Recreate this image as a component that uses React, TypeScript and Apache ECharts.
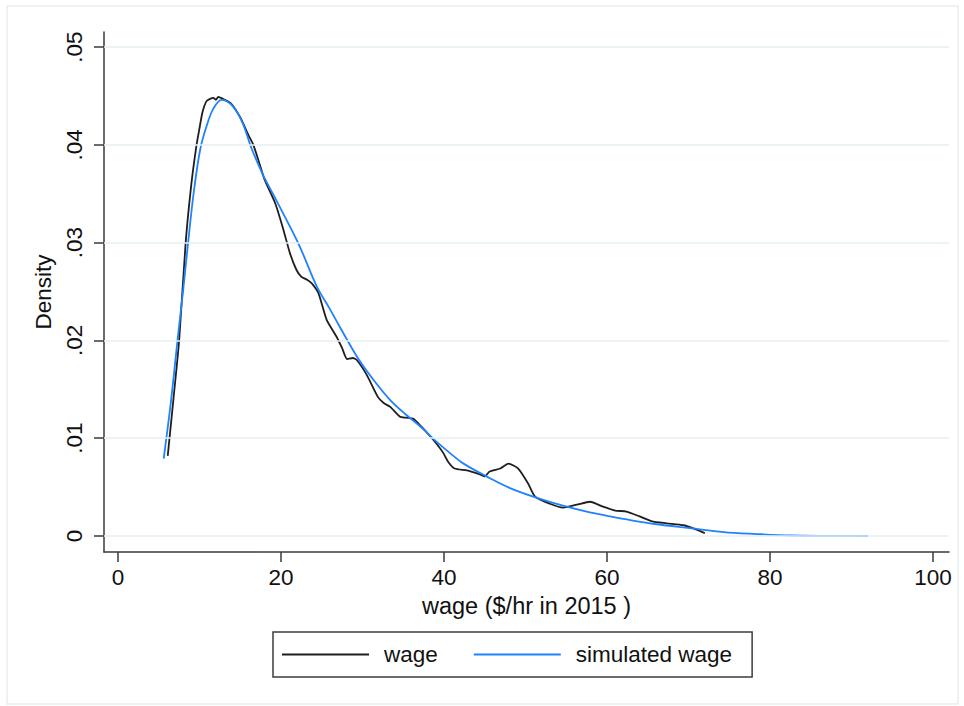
import React, { useEffect, useRef } from "react";
import * as echarts from "echarts";

// Kernel density of observed hourly wages ($/hr in 2015)
const wageDensity: [number, number][] = [
  [6.1, 0.0082], [6.8, 0.014], [7.5, 0.02], [8.3, 0.03], [9.0, 0.036], [9.6, 0.0398],
  [10.0, 0.0417], [10.3, 0.0431], [10.6, 0.0440], [10.9, 0.0445], [11.3, 0.0447],
  [11.7, 0.0448], [12.0, 0.0446], [12.3, 0.0449], [13.1, 0.0446], [13.9, 0.0442],
  [15.0, 0.0428], [16.0, 0.041], [16.6, 0.04], [17.2, 0.0385], [18.0, 0.0364],
  [19.3, 0.034], [20.3, 0.0313], [21.1, 0.0289], [21.9, 0.0272], [22.5, 0.0265],
  [23.2, 0.0262], [23.8, 0.0258], [24.6, 0.0248], [25.6, 0.0221], [26.8, 0.0204],
  [27.5, 0.0192], [28.1, 0.0181], [28.8, 0.0182], [29.3, 0.018], [30.5, 0.0165],
  [31.9, 0.0142], [32.6, 0.0136], [33.4, 0.0132], [34.6, 0.0122], [35.3, 0.0121],
  [36.2, 0.012], [37.2, 0.0112], [38.3, 0.0102], [39.2, 0.0093], [39.9, 0.0085],
  [40.5, 0.0076], [41.3, 0.0069], [42.8, 0.0067], [44.4, 0.0063], [45.0, 0.0061],
  [45.6, 0.0066], [46.9, 0.0069], [47.9, 0.0074], [49.1, 0.0069], [50.3, 0.0054],
  [51.2, 0.004], [53.0, 0.0033], [54.6, 0.0029], [56.3, 0.0032], [57.9, 0.0035],
  [59.5, 0.003], [61.0, 0.0026], [62.4, 0.0025], [64.0, 0.002], [65.5, 0.0015],
  [67.3, 0.0013], [69.4, 0.0011], [70.5, 0.0008], [72.0, 0.0003],
];

// Density of wages drawn from the fitted distribution
const simulatedDensity: [number, number][] = [
  [5.6, 0.0079], [6.5, 0.0138], [7.3, 0.02], [8.0, 0.0252], [8.6, 0.03], [9.3, 0.0352],
  [10.1, 0.0396], [10.9, 0.042], [11.7, 0.0437], [12.7, 0.0446], [13.9, 0.0441],
  [15.2, 0.0424], [16.4, 0.0396], [17.8, 0.0369], [19.0, 0.035], [20.5, 0.0326],
  [22.3, 0.0296], [24.4, 0.0255], [26.0, 0.0232], [27.2, 0.0214], [29.5, 0.0181],
  [31.5, 0.0158], [33.4, 0.0139], [35.2, 0.0125], [37.1, 0.0112], [39.0, 0.0097],
  [40.7, 0.0085], [42.4, 0.0074], [45.2, 0.0061], [48.1, 0.0049], [51.4, 0.0039],
  [54.6, 0.0031], [57.5, 0.0025], [60.4, 0.002], [63.0, 0.0016], [66.1, 0.0012],
  [70.2, 0.0008], [74.3, 0.0004], [78.4, 0.0002], [82.5, 0.00005], [87.0, 0.00001],
  [92.0, 0],
];

const seriesNames = ["wage", "simulated wage"];
const xTicks = [0, 20, 40, 60, 80, 100];
const yTicks = [0, 0.01, 0.02, 0.03, 0.04, 0.05];
const xTitle = "wage ($/hr in 2015 )";
const yTitle = "Density";

const FONT = "'Liberation Sans', Arial, Helvetica, sans-serif";
const AXIS_COLOR = "#3a3a3a";
const TEXT_COLOR = "#111111";
const WAGE_COLOR = "#1e1e1e";
const SIM_COLOR = "#1f82ff";

export default function App() {
  const ref = useRef<HTMLDivElement>(null);

  useEffect(() => {
    if (!ref.current) return;
    const chart = echarts.init(ref.current, undefined, { renderer: "svg" });

    const fmtY = (v: number) => (v === 0 ? "0" : v.toFixed(2).replace(/^0/, ""));

    chart.setOption({
      animation: false,
      backgroundColor: "#ffffff",
      textStyle: { fontFamily: FONT },
      graphic: [
        {
          type: "rect",
          shape: { x: 7, y: 6, width: 951, height: 698 },
          style: { fill: "none", stroke: "#e8eeee", lineWidth: 1.5 },
          silent: true,
          z: -10,
        },
      ],
      grid: { left: 104, right: 15, top: 32, bottom: 154, containLabel: false },
      legend: {
        data: seriesNames.map((name) => ({ name, icon: "rect" })),
        left: 273,
        top: 632,
        orient: "horizontal",
        padding: [11, 20, 11, 9],
        itemWidth: 87,
        itemHeight: 2,
        itemGap: 36,
        borderColor: "#3c3c3c",
        borderWidth: 1.5,
        borderRadius: 0,
        textStyle: {
          fontFamily: FONT,
          fontSize: 22.5,
          color: TEXT_COLOR,
          padding: [0, 0, 0, 10],
        },
      },
      xAxis: {
        type: "value",
        min: -1.72,
        max: 101.96,
        name: xTitle,
        nameLocation: "middle",
        nameGap: 39,
        nameTextStyle: { fontFamily: FONT, fontSize: 23.5, color: TEXT_COLOR },
        axisLine: { show: true, onZero: false, lineStyle: { color: AXIS_COLOR, width: 1.5 } },
        axisTick: {
          show: true,
          length: 10,
          customValues: xTicks,
          lineStyle: { color: AXIS_COLOR, width: 1.5 },
        },
        axisLabel: {
          customValues: xTicks,
          margin: 14,
          fontFamily: FONT,
          fontSize: 22.5,
          color: TEXT_COLOR,
        },
        splitLine: { show: false },
      },
      yAxis: {
        type: "value",
        min: -0.001636,
        max: 0.051534,
        name: yTitle,
        nameLocation: "middle",
        nameRotate: 90,
        nameGap: 48,
        nameTextStyle: { fontFamily: FONT, fontSize: 22.5, color: TEXT_COLOR },
        axisLine: { show: true, onZero: false, lineStyle: { color: AXIS_COLOR, width: 1.5 } },
        axisTick: {
          show: true,
          length: 10,
          customValues: yTicks,
          lineStyle: { color: AXIS_COLOR, width: 1.5 },
        },
        axisLabel: {
          customValues: yTicks,
          rotate: 90,
          margin: 18,
          fontFamily: FONT,
          fontSize: 22.5,
          color: TEXT_COLOR,
          formatter: (v: number) => fmtY(v),
        },
        splitLine: { show: false },
      },
      series: [
        {
          name: "gridlines",
          type: "line",
          data: [],
          silent: true,
          z: 1,
          markLine: {
            silent: true,
            symbol: "none",
            label: { show: false },
            lineStyle: { color: "#e6eff1", width: 1.5, type: "solid" },
            data: yTicks.map((v) => ({ yAxis: v })),
          },
        },
        {
          name: seriesNames[0],
          type: "line",
          data: wageDensity,
          showSymbol: false,
          symbol: "none",
          smooth: 0.2,
          z: 3,
          lineStyle: { color: WAGE_COLOR, width: 1.8 },
          itemStyle: { color: WAGE_COLOR },
        },
        {
          name: seriesNames[1],
          type: "line",
          data: simulatedDensity,
          showSymbol: false,
          symbol: "none",
          smooth: 0.35,
          z: 4,
          lineStyle: { color: SIM_COLOR, width: 1.8 },
          itemStyle: { color: SIM_COLOR },
        },
      ],
    });

    return () => chart.dispose();
  }, []);

  return (
    <div
      ref={ref}
      style={{ position: "absolute", left: 0, top: 0, width: 964, height: 706 }}
    />
  );
}
